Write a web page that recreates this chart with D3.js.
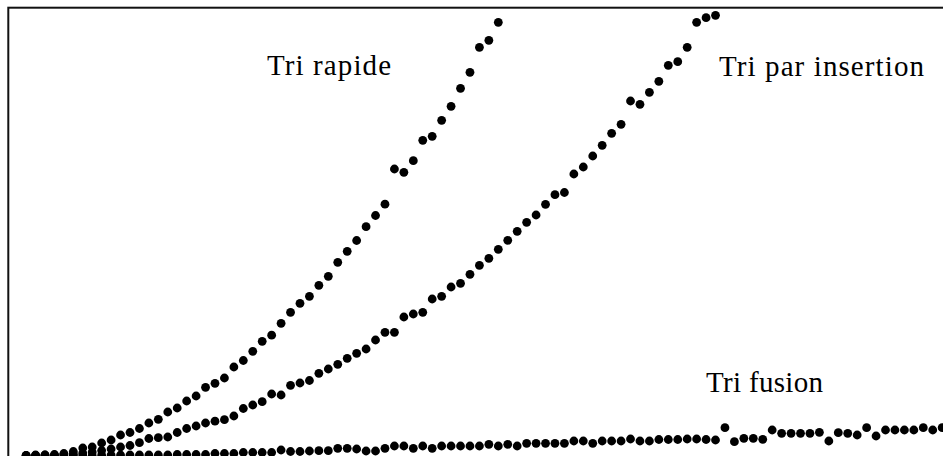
<!DOCTYPE html>
<html>
<head>
<meta charset="utf-8">
<script src="https://cdn.jsdelivr.net/npm/d3@7"></script>
<style>
  html, body { margin: 0; padding: 0; background: #fff; overflow: hidden; }
  svg { display: block; }
</style>
</head>
<body>
<svg id="chart" width="943" height="456"></svg>
<script>
// Array sizes (n) for each measurement
const sizes = [100,200,300,400,500,600,700,800,900,1000,1100,1200,1300,1400,1500,1600,1700,1800,1900,2000,
  2100,2200,2300,2400,2500,2600,2700,2800,2900,3000,3100,3200,3300,3400,3500,3600,3700,3800,3900,4000,
  4100,4200,4300,4400,4500,4600,4700,4800,4900,5000,5100,5200,5300,5400,5500,5600,5700,5800,5900,6000,
  6100,6200,6300,6400,6500,6600,6700,6800,6900,7000,7100,7200,7300,7400,7500,7600,7700,7800,7900,8000,
  8100,8200,8300,8400,8500,8600,8700,8800,8900,9000,9100,9200,9300,9400,9500,9600,9700,9800];

const triRapide = [0.5,1,1,1.5,2.5,4.5,8,9,13,16,21,23.5,27.5,33,36.7,44,48,55,60,68.7,
  72.7,78,89,95.5,104.7,114.7,120.8,132.7,143.7,152.7,159.7,170.7,179.7,193.7,204.7,215.5,229.3,240.5,251.8,287,
  283.7,295.3,315.7,319.7,335.7,349.7,367.7,383.7,408.7,415.7,433.7];

const triInsertion = [0.5,0.5,1,1,1.5,2,3,4,5.5,7,9,10.5,13.3,17.5,18.3,19,23.5,27.5,30,33,
  34.8,36.3,40,47.5,51,54.3,62,61,70.7,73,75.5,82.7,87,91.7,97.7,102.7,107,116,123.7,123.7,
  139,142,143.7,157,159.7,169,172.7,181.7,190.7,197.7,206.7,215.7,224.7,233.7,241,251.7,261.3,263.5,
  282,289,300,310.7,322.7,331.7,355,351.7,363.7,374.7,390.7,394.3,408.7,433.7,438.3,440.7];

const triFusion = [0.3,0.3,0.3,0.3,0.3,0.3,0.8,0.3,0.8,1,1,1,1,1,1,1,1.5,1.5,1.5,1.5,
  2.5,2.5,2.5,3.5,3.5,3.5,3.5,6,4.5,4.5,5,
  5.3,5.3,7.7,7.7,7,5,5,7.7,10,10,7.7,10,7.7,10,10,10,10,10,11.7,10,11.7,10,12.7,12.7,12.7,12.7,12.7,15,15,12.7,15,15,15,17,
  15,15,16.5,16.5,16.5,17,17,16.5,16,28.3,14.3,17.7,17.7,16.7,26,22.7,22.7,22.7,22.7,23.7,15,23.3,22.7,21,28.3,20,26,26,26,26,28.3,26,28.3];

const labels = ["Tri rapide", "Tri par insertion", "Tri fusion"];

const svg = d3.select("#chart");

const x = d3.scaleLinear().domain([0, 10000]).range([16.66, 961.06]);
const y = d3.scaleLinear().domain([0, 448]).range([456, 8]);

// Frame (extends beyond the visible window on the right and bottom)
svg.append("rect")
  .attr("x", 8.3).attr("y", 7.7)
  .attr("width", 1200).attr("height", 1200)
  .attr("fill", "none").attr("stroke", "#111").attr("stroke-width", 2);

const series = [triRapide, triInsertion, triFusion];
const g = svg.append("g");
series.forEach(vals => {
  g.append("g").selectAll("circle")
    .data(vals)
    .join("circle")
    .attr("cx", (d, i) => x(sizes[i]))
    .attr("cy", d => y(d))
    .attr("r", 4.4)
    .attr("fill", "#000");
});

// Labels
const labelPos = [
  {x: 267, y: 75, w: 124},
  {x: 719, y: 76, w: 205},
  {x: 706, y: 392, w: 117}
];
labels.forEach((t, i) => {
  svg.append("text")
    .attr("x", labelPos[i].x).attr("y", labelPos[i].y)
    .attr("textLength", labelPos[i].w)
    .attr("lengthAdjust", "spacing")
    .attr("font-family", "'Liberation Serif', 'DejaVu Serif', serif")
    .attr("font-size", 29)
    .attr("fill", "#000")
    .text(t);
});
</script>
</body>
</html>
